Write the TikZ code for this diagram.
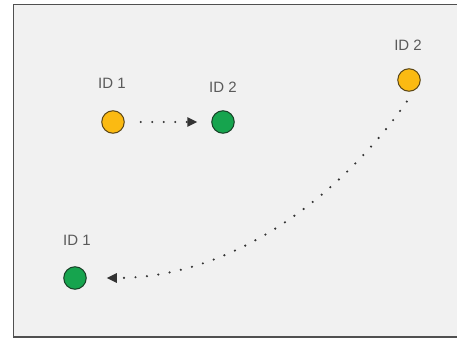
\documentclass[tikz,border=0pt]{standalone}
\usepackage{fontspec}
\setmainfont{Liberation Sans}
\usetikzlibrary{arrows.meta}
\definecolor{bgfill}{HTML}{F1F1F1}
\definecolor{framec}{HTML}{505050}
\definecolor{txt}{HTML}{5A5A5A}
\definecolor{orangef}{HTML}{FBBA12}
\definecolor{oranged}{HTML}{5A4515}
\definecolor{greenf}{HTML}{16A44E}
\definecolor{greend}{HTML}{173F26}
\tikzset{
  dotnode/.style={circle, minimum size=22.5pt, inner sep=0pt, line width=1pt},
  orangedot/.style={dotnode, fill=orangef, draw=oranged},
  greendot/.style={dotnode, fill=greenf, draw=greend},
  idlabel/.style={text=txt, font=\fontsize{15}{17}\selectfont, inner sep=0pt},
  dotline/.style={line width=2.4pt, line cap=round, dash pattern=on 0pt off 11.5pt,
    -{Triangle[length=10pt,width=9pt]}, black!80}
}
\begin{document}
\begin{tikzpicture}[x=1pt,y=-1pt]
\useasboundingbox (0,0) rectangle (457,339);
\clip (0,0) rectangle (457,339);
\fill[white] (0,0) rectangle (457,339);
\draw[framec, line width=1.4pt, fill=bgfill] (13.5,4.5) rectangle (470,337);
\node[orangedot] (o1) at (113,122) {};
\node[greendot] (g1) at (223,122) {};
\node[orangedot] (o2) at (409,80) {};
\node[greendot] (g2) at (75,278) {};
\node[idlabel] (l1) at (112,83) {ID 1};
\node[idlabel] (l2) at (223,87) {ID 2};
\node[idlabel] (l3) at (408,45) {ID 2};
\node[idlabel] (l4) at (77,240) {ID 1};
\draw[dotline, shorten <=16pt, shorten >=14pt] (o1) -- (g1);
\draw[dotline, shorten <=14pt, shorten >=20pt] (o2.-60) .. controls (346,188) and (240,278) .. (g2.east);
\end{tikzpicture}
\end{document}
